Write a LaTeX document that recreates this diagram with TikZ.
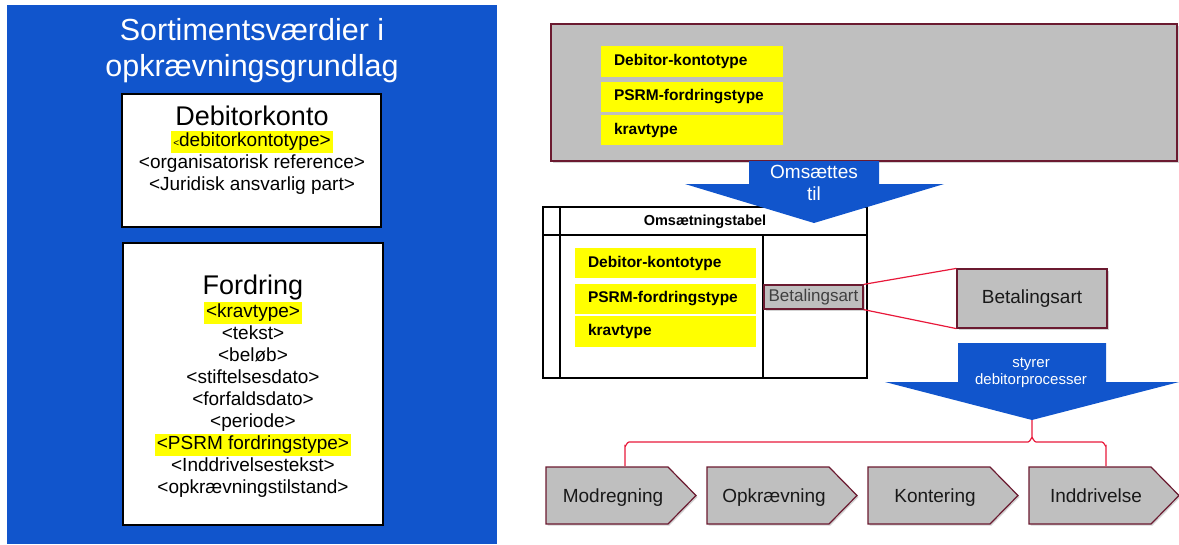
\documentclass[tikz,border=0pt]{standalone}
\usepackage{fontspec}
\setmainfont{Liberation Sans}
\usetikzlibrary{shadows}
\definecolor{panelblue}{HTML}{1155CC}
\definecolor{boxgray}{HTML}{BFBFBF}
\definecolor{boxframe}{HTML}{6B1A30}
\definecolor{linkred}{HTML}{E8183A}
\definecolor{markyellow}{HTML}{FFFF00}
\setlength{\fboxsep}{2pt}
\newcommand{\hlmark}[1]{\colorbox{markyellow}{#1}}
\newcommand{\tightlines}{\lineskiplimit-30pt\relax}
\tikzset{
  panelbox/.style={draw=black, fill=white, line width=2.5pt},
  headtext/.style={font=\fontsize{27}{30}\selectfont, anchor=base, inner sep=0pt},
  itemlist/.style={font=\fontsize{19}{22}\selectfont\tightlines, align=center, anchor=north, inner sep=0pt},
  graybox/.style={draw=boxframe, fill=boxgray, line width=1.2pt,
    drop shadow={shadow xshift=1.5pt, shadow yshift=-1.5pt, opacity=0.35}},
  fieldbox/.style={fill=markyellow, font=\fontsize{15.5}{18}\selectfont\bfseries,
    text width=156pt, align=left, inner xsep=13pt, inner ysep=0pt, minimum height=30pt},
  bigarrow/.style={fill=panelblue},
  arrowtext/.style={text=white, align=center, inner sep=0pt},
  redlink/.style={draw=linkred, line width=1.2pt},
  steptext/.style={font=\fontsize{19}{22}\selectfont, text=black!90, inner sep=0pt, anchor=base}
}
\begin{document}
\begin{tikzpicture}[x=1pt, y=-1pt]
  \useasboundingbox (0,0) rectangle (1179,544);
  % venstre panel
  \fill[panelblue] (7,5) rectangle (497,544);
  \node[arrowtext, font=\fontsize{30.5}{36}\selectfont] (title) at (252,51) {Sortimentsværdier i\\opkrævningsgrundlag};
  \node[panelbox, minimum width=259pt, minimum height=133pt] (konto) at (251.5,160.5) {};
  \node[headtext] (kontohead) at (252,125) {Debitorkonto};
  \node[itemlist] (kontolist) at (252,131) {\hlmark{{\fontsize{10}{10}\selectfont<}debitorkontotype>}\\<organisatorisk reference>\\<Juridisk ansvarlig part>};
  \node[panelbox, minimum width=260pt, minimum height=282pt] (fordring) at (253,384) {};
  \node[headtext] (fordringhead) at (253,294) {Fordring};
  \node[itemlist] (fordringlist) at (253,302) {\hlmark{<kravtype>}\\<tekst>\\<beløb>\\<stiftelsesdato>\\<forfaldsdato>\\<periode>\\\hlmark{<PSRM fordringstype>}\\<Inddrivelsestekst>\\<opkrævningstilstand>};
  % kildefelter
  \node[graybox, minimum width=626pt, minimum height=137pt] (source) at (864,92.5) {};
  \node[fieldbox, minimum height=31pt] (srcdebitor) at (692,61.5) {Debitor-kontotype};
  \node[fieldbox] (srcpsrm) at (692,97) {PSRM-fordringstype};
  \node[fieldbox] (srckrav) at (692,130) {kravtype};
  % omsaetningstabel
  \draw[line width=2pt] (543,207) rectangle (867,378);
  \draw[line width=1.5pt] (560,207) -- (560,378);
  \draw[line width=1.5pt] (543,235) -- (867,235);
  \draw[line width=1.5pt] (763,235) -- (763,378);
  \node[font=\fontsize{14.5}{17}\selectfont\bfseries, inner sep=0pt] (tabhead) at (705,222) {Omsætningstabel};
  \node[fieldbox, text width=155pt] (tabdebitor) at (665.5,263) {Debitor-kontotype};
  \node[fieldbox, text width=155pt] (tabpsrm) at (665.5,299) {PSRM-fordringstype};
  \node[fieldbox, text width=155pt, minimum height=31pt] (tabkrav) at (665.5,331.5) {kravtype};
  \node[graybox, minimum width=99pt, minimum height=24pt, inner sep=0pt, text=black!75,
    font=\fontsize{17}{20}\selectfont] (betsmall) at (813.5,297) {Betalingsart};
  \node[graybox, minimum width=150pt, minimum height=59pt, text=black!90,
    font=\fontsize{19}{22}\selectfont] (betbig) at (1032,298.5) {Betalingsart};
  \draw[redlink] (betsmall.north east) -- (betbig.north west);
  \draw[redlink] (betsmall.south east) -- (betbig.south west);
  % pile
  \fill[bigarrow] (749,161) -- (879,161) -- (879,184) -- (944,184) -- (814,223) coordinate (tipone)
    -- (685,184) -- (749,184) -- cycle;
  \node[arrowtext, font=\fontsize{19}{22}\selectfont] (omsaettes) at (814,183) {Omsættes\\til};
  \fill[bigarrow] (958,343) -- (1106,343) -- (1106,382) -- (1179,382) -- (1032,420) coordinate (tiptwo)
    -- (885,382) -- (958,382) -- cycle;
  \node[arrowtext, font=\fontsize{15}{17}\selectfont] (styrer) at (1031,373) {styrer\\debitorprocesser};
  % debitorprocesser
  \draw[graybox] (546,467) -- (668,467) -- (696,495.5) -- (668,524) -- (546,524) -- cycle;
  \node[steptext] (modregning) at (613,502) {Modregning};
  \draw[graybox] (707,467) -- (829,467) -- (857,495.5) -- (829,524) -- (707,524) -- cycle;
  \node[steptext] (opkraevning) at (774,502) {Opkrævning};
  \draw[graybox] (868,467) -- (990,467) -- (1018,495.5) -- (990,524) -- (868,524) -- cycle;
  \node[steptext] (kontering) at (935,502) {Kontering};
  \draw[graybox] (1029,467) -- (1151,467) -- (1179,495.5) -- (1151,524) -- (1029,524) -- cycle;
  \node[steptext] (inddrivelse) at (1096,502) {Inddrivelse};
  \coordinate (modtop) at (625,466);
  \coordinate (inddtop) at (1106,466);
  \draw[redlink] (modtop) -- (625,446) to[out=-90,in=180] (629,442) -- (1028,442)
    to[out=0,in=90] (1032,438) -- (tiptwo);
  \draw[redlink] (1032,438) to[out=90,in=180] (1036,442) -- (1102,442)
    to[out=0,in=-90] (1106,446) -- (inddtop);
\end{tikzpicture}
\end{document}
